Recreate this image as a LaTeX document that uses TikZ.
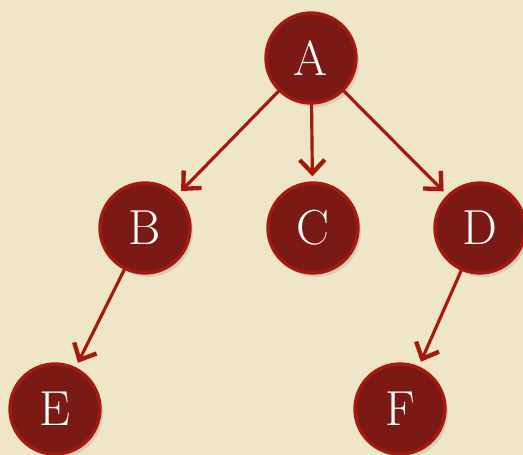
\documentclass[tikz,border=0pt]{standalone}
\usepackage{xcolor}
\usepackage{tikz}
\usetikzlibrary{arrows.meta,shadows}
\usetikzlibrary{positioning}

\definecolor{paper}{HTML}{EFE6C8}
\definecolor{wine}{HTML}{7B1A14}
\definecolor{rim}{HTML}{A51A0C}

\begin{document}
\begin{tikzpicture}[-{Straight Barb[length=4mm,width=7.5mm,line width=1.3mm]},auto,x=0.03cm,y=-0.03cm,semithick]
 \tikzstyle{vert}=[draw=rim, line width=1mm, circle, minimum size=2.7cm, inner sep=0pt,
   fill=wine, text=white, font=\fontsize{42}{46}\selectfont,
   drop shadow={opacity=0.22, shadow xshift=0.9mm, shadow yshift=-1.2mm}]
 \tikzstyle{arc}=[draw=rim, line width=0.95mm, line cap=round, shorten >=1.5mm]
 \fill[paper] (0,0) rectangle (523,455);
 \useasboundingbox (0,0) rectangle (523,455);
   \node[vert] (A) at (311,58)  {A};
   \node[vert] (B) at (145,228) {B};
   \node[vert] (C) at (313,228) {C};
   \node[vert] (D) at (480,228) {D};
   \node[vert] (E) at (55,409)  {E};
   \node[vert] (F) at (400,409) {F};
 \path
   (A) edge [arc] (B)
   (A) edge [arc] (C)
   (A) edge [arc] (D)
   (B) edge [arc] (E)
   (D) edge [arc] (F);
\end{tikzpicture}
\end{document}
